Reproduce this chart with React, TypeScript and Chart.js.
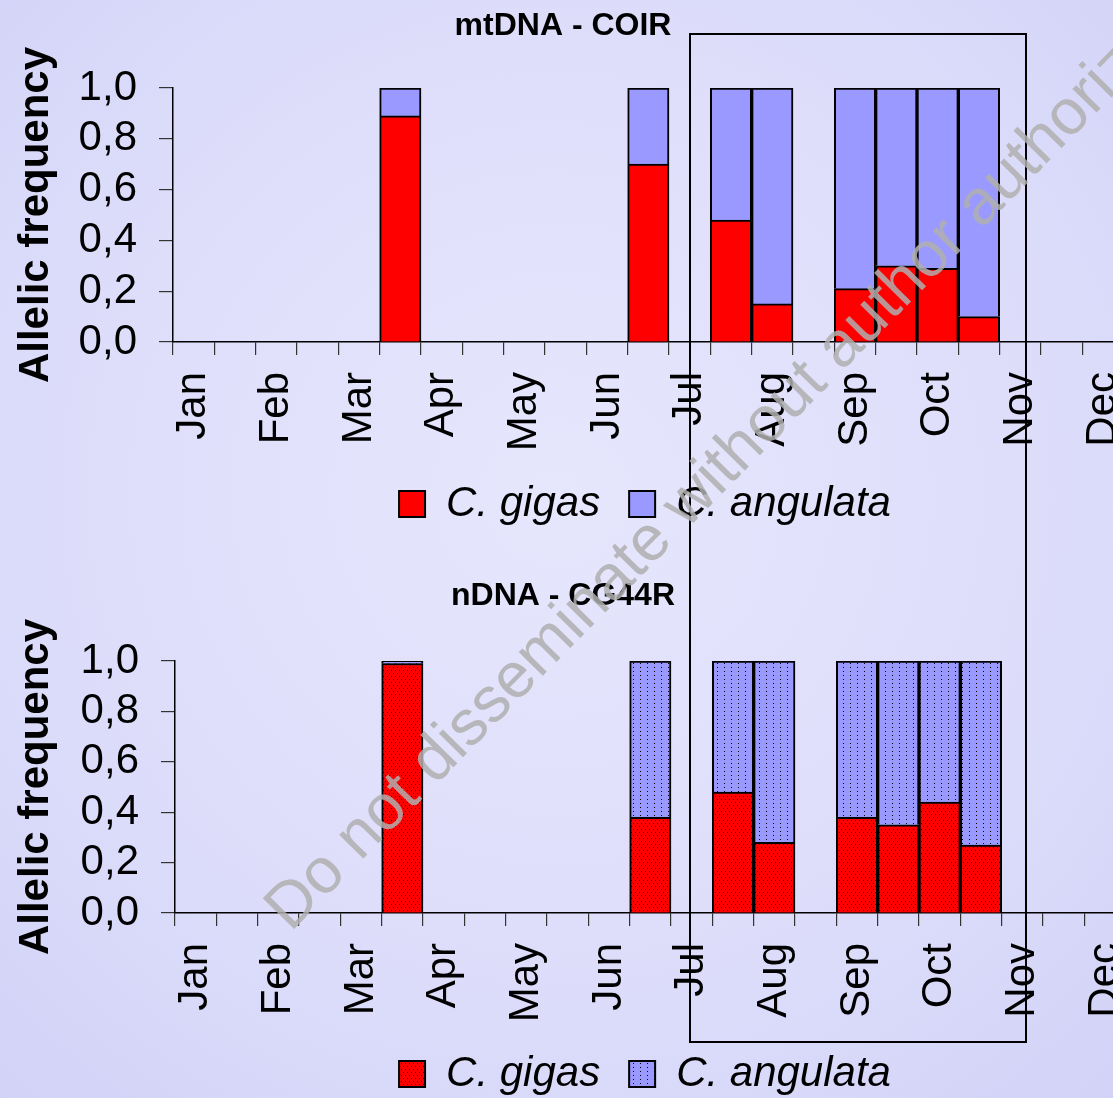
import React, { useEffect, useRef } from "react";
import { Chart, registerables } from "chart.js";

Chart.register(...registerables);

// ---------- data ----------
const slotLabels = [
  "Jan", "", "Feb", "", "Mar", "", "Apr", "", "May", "", "Jun", "",
  "Jul", "", "Aug", "", "Sep", "", "Oct", "", "Nov", "", "Dec", "",
];
const seriesNames = ["C. gigas", "C. angulata"];
const yAxisTitle = "Allelic frequency";
const titleMt = "mtDNA - COIR";
const titleN = "nDNA - CG44R";
const watermarkText = "Do not disseminate without author authorization";

const mtGigas = [null, null, null, null, null, 0.89, null, null, null, null, null, 0.70,
  null, 0.48, 0.15, null, 0.21, 0.30, 0.29, 0.10, null, null, null, null];
const mtAngulata = [null, null, null, null, null, 0.11, null, null, null, null, null, 0.30,
  null, 0.52, 0.85, null, 0.79, 0.70, 0.71, 0.90, null, null, null, null];

const nGigas = [null, null, null, null, null, 0.99, null, null, null, null, null, 0.38,
  null, 0.48, 0.28, null, 0.38, 0.35, 0.44, 0.27, null, null, null, null];
const nAngulata = [null, null, null, null, null, 0.01, null, null, null, null, null, 0.62,
  null, 0.52, 0.72, null, 0.62, 0.65, 0.56, 0.73, null, null, null, null];

// ---------- styles ----------
const FONT = "'Liberation Sans', Arial, Helvetica, sans-serif";
const RED = "#ff0000";
const BLUE = "#9999ff";

function makePattern(
  ctx: CanvasRenderingContext2D,
  base: string,
  w: number,
  h: number,
  dots: [number, number][]
) {
  const c = document.createElement("canvas");
  c.width = w;
  c.height = h;
  const g = c.getContext("2d")!;
  g.fillStyle = base;
  g.fillRect(0, 0, w, h);
  g.fillStyle = "#000";
  dots.forEach(([x, y]) => g.fillRect(x, y, 1, 1));
  return ctx.createPattern(c, "repeat")!;
}

const freeTitlePlugin = {
  id: "freeTitle",
  afterDraw(chart: any, _args: any, opts: any) {
    const { ctx } = chart;
    ctx.save();
    ctx.font = `bold 32px ${FONT}`;
    ctx.fillStyle = "#000";
    ctx.textAlign = "center";
    ctx.textBaseline = "middle";
    ctx.fillText(opts.text, opts.x, opts.y);
    ctx.restore();
  },
};

type Cfg = {
  title: string;
  gigas: (number | null)[];
  angulata: (number | null)[];
  patterned: boolean;
  width: number;
  height: number;
  plotTop: number;
  yAxisWidth: number;
  xAxisHeight: number;
  rightGap: number;
  titleX: number;
  titleY: number;
};

function FreqChart({ cfg }: { cfg: Cfg }) {
  const ref = useRef<HTMLCanvasElement>(null);
  useEffect(() => {
    const canvas = ref.current!;
    const ctx = canvas.getContext("2d")!;
    const redFill = cfg.patterned
      ? makePattern(ctx, RED, 4, 6, [[1, 1], [3, 4]])
      : RED;
    const blueFill = cfg.patterned
      ? makePattern(ctx, BLUE, 7, 4, [[3, 1]])
      : BLUE;

    const chart = new Chart(ctx, {
      type: "bar",
      data: {
        labels: slotLabels,
        datasets: [
          {
            label: seriesNames[0],
            data: cfg.gigas,
            backgroundColor: redFill,
            borderColor: "#000",
            borderWidth: 2,
            barPercentage: 1,
            categoryPercentage: 1,
          },
          {
            label: seriesNames[1],
            data: cfg.angulata,
            backgroundColor: blueFill,
            borderColor: "#000",
            borderWidth: 2,
            barPercentage: 1,
            categoryPercentage: 1,
          },
        ],
      },
      options: {
        responsive: false,
        maintainAspectRatio: false,
        animation: false,
        layout: { padding: { top: cfg.plotTop, left: 0, right: 0, bottom: 0 } },
        plugins: {
          title: { display: false },
          tooltip: { enabled: false },
          legend: {
            display: true,
            position: "bottom",
            labels: {
              boxWidth: 26,
              boxHeight: 26,
              padding: 29,
              color: "#000",
              font: { family: FONT, size: 42, style: "italic" },
            },
          },
          freeTitle: { text: cfg.title, x: cfg.titleX, y: cfg.titleY },
        } as any,
        scales: {
          x: {
            stacked: true,
            offset: true,
            grid: {
              offset: true,
              drawOnChartArea: false,
              drawTicks: true,
              tickLength: 13,
              color: "#333",
              lineWidth: 1.2,
            },
            border: { display: true, color: "#000", width: 1.5 },
            ticks: {
              autoSkip: false,
              maxRotation: 90,
              minRotation: 90,
              padding: 17,
              color: "#000",
              font: { family: FONT, size: 42 },
            },
            afterFit: (s: any) => {
              s.height = cfg.xAxisHeight;
            },
          },
          y: {
            stacked: true,
            min: 0,
            max: 1,
            grid: {
              drawOnChartArea: false,
              drawTicks: true,
              tickLength: 14,
              color: "#333",
              lineWidth: 1.2,
            },
            border: { display: true, color: "#000", width: 1.5 },
            ticks: {
              stepSize: 0.2,
              autoSkip: false,
              padding: 22,
              color: "#000",
              font: { family: FONT, size: 42 },
              callback: (v: any) => Number(v).toFixed(1).replace(".", ","),
            },
            title: {
              display: true,
              text: yAxisTitle,
              color: "#000",
              font: { family: FONT, size: 42, weight: "bold" },
              padding: { top: 11, bottom: 0 },
            },
            afterFit: (s: any) => {
              s.width = cfg.yAxisWidth;
            },
          },
          spacer: {
            type: "linear",
            position: "right",
            display: true,
            grid: { display: false, drawTicks: false },
            border: { display: false },
            ticks: { display: false },
            afterFit: (s: any) => {
              s.width = cfg.rightGap;
            },
          },
        } as any,
      },
      plugins: [freeTitlePlugin as any],
    });
    return () => chart.destroy();
  }, []);
  return (
    <canvas
      ref={ref}
      width={cfg.width}
      height={cfg.height}
      style={{ display: "block", width: cfg.width, height: cfg.height }}
    />
  );
}

const topCfg: Cfg = {
  title: titleMt,
  gigas: mtGigas,
  angulata: mtAngulata,
  patterned: false,
  width: 1290,
  height: 535,
  plotTop: 88,
  yAxisWidth: 173,
  xAxisHeight: 112,
  rightGap: 125,
  titleX: 563,
  titleY: 26,
};

const bottomCfg: Cfg = {
  title: titleN,
  gigas: nGigas,
  angulata: nAngulata,
  patterned: true,
  width: 1290,
  height: 535,
  plotTop: 91,
  yAxisWidth: 175,
  xAxisHeight: 111,
  rightGap: 123,
  titleX: 563,
  titleY: 26,
};

export default function App() {
  return (
    <div
      style={{
        position: "absolute",
        left: 0,
        top: 0,
        width: 1113,
        height: 1098,
        overflow: "hidden",
        background:
          "radial-gradient(ellipse 75% 75% at 50% 45%, #e6e6fd 0%, #dedefb 55%, #d2d2f7 100%)",
        fontFamily: FONT,
      }}
    >
      <div style={{ position: "absolute", left: 0, top: 0 }}>
        <FreqChart cfg={topCfg} />
      </div>
      <div style={{ position: "absolute", left: 0, top: 570 }}>
        <FreqChart cfg={bottomCfg} />
      </div>
      <div
        style={{
          position: "absolute",
          left: 689,
          top: 33,
          width: 334,
          height: 1006,
          border: "2px solid #000",
          pointerEvents: "none",
        }}
      />
      <div
        style={{
          position: "absolute",
          left: 252,
          top: 895,
          transform: "rotate(-45.5deg)",
          transformOrigin: "0 0",
          whiteSpace: "nowrap",
          fontFamily: FONT,
          fontSize: 64,
          lineHeight: 1,
          color: "rgba(175,175,175,0.85)",
          pointerEvents: "none",
        }}
      >
        {watermarkText}
      </div>
    </div>
  );
}
